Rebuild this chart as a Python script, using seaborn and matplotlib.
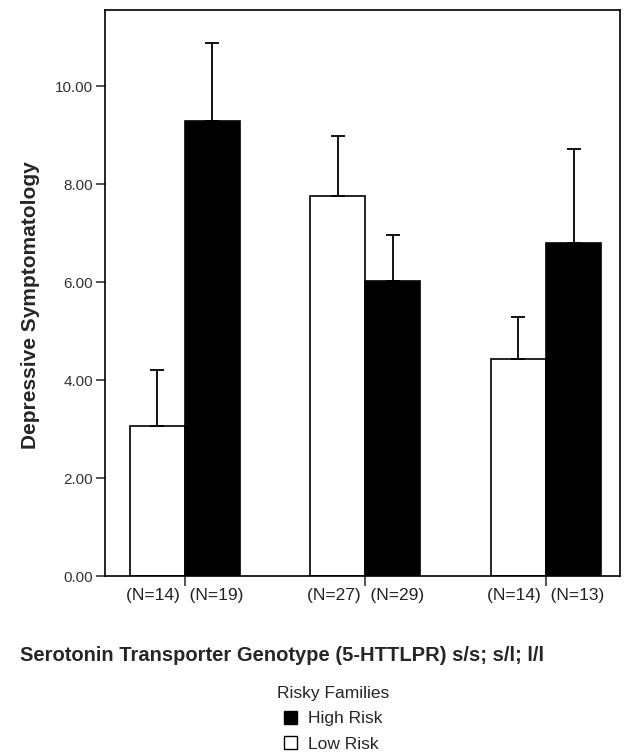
import numpy as np
import pandas as pd
import matplotlib
matplotlib.use("Agg")
import matplotlib.pyplot as plt
import seaborn as sns
from matplotlib.patches import Patch

# values
genotypes = ["s/s", "s/l", "l/l"]
risk_order = ["Low Risk", "High Risk"]
low_mean = [3.07, 7.76, 4.44]
low_upper = [4.21, 8.98, 5.28]
high_mean = [9.28, 6.02, 6.79]
high_upper = [10.88, 6.96, 8.72]
n_low = [14, 27, 14]
n_high = [19, 29, 13]
yticks = [0, 2, 4, 6, 8, 10]

df = pd.DataFrame({
    "Genotype": genotypes * 2,
    "Risk": ["Low Risk"] * 3 + ["High Risk"] * 3,
    "Mean": low_mean + high_mean,
    "Upper": low_upper + high_upper,
})

sns.set_style("white")
plt.rcParams["font.family"] = ["Liberation Sans", "DejaVu Sans"]

fig = plt.figure(figsize=(6.32, 7.54), dpi=100)
ax = fig.add_axes([0.166, 0.236, 0.815, 0.751])

sns.barplot(data=df, x="Genotype", y="Mean", hue="Risk", order=genotypes,
            hue_order=risk_order, palette={"Low Risk": "white", "High Risk": "black"},
            edgecolor="black", linewidth=1.2, width=0.61, gap=0, errorbar=None,
            legend=False, ax=ax)

# one-sided error bars (upper only)
offsets = {"Low Risk": -0.1525, "High Risk": 0.1525}
for risk in risk_order:
    sub = df[df["Risk"] == risk].set_index("Genotype").loc[genotypes]
    xs = np.arange(len(genotypes)) + offsets[risk]
    err = sub["Upper"].values - sub["Mean"].values
    ax.errorbar(xs, sub["Mean"].values, yerr=[np.zeros(len(xs)), err],
                fmt="none", ecolor="black", elinewidth=1.3, capsize=4.7,
                capthick=1.3, zorder=1)

ax.set_xlim(-0.443, 2.41)
ax.set_ylim(0, 11.56)
ax.set_yticks(yticks)
ax.set_yticklabels([f"{v:.2f}" for v in yticks], fontsize=11, color="#333333")
ax.set_xticks(range(len(genotypes)))
ax.set_xticklabels([f"(N={a})  (N={b})" for a, b in zip(n_low, n_high)],
                   fontsize=12.5, color="#222222")
ax.tick_params(axis="y", direction="out", length=6.5, width=1.1, left=True, pad=2)
ax.tick_params(axis="x", direction="out", length=7.5, width=1.1, bottom=True, pad=1)
for s in ax.spines.values():
    s.set_color("black")
    s.set_linewidth(1.2)

ax.set_xlabel("")
ax.set_ylabel("Depressive Symptomatology", fontsize=15, fontweight="bold")
ax.yaxis.set_label_coords(-0.126, 0.479)
fig.text(0.032, 0.131, "Serotonin Transporter Genotype (5-HTTLPR) s/s; s/l; l/l",
         fontsize=14.5, fontweight="bold", ha="left", va="center")

handles = [Patch(facecolor="black", edgecolor="black", label="High Risk"),
           Patch(facecolor="white", edgecolor="black", label="Low Risk")]
leg = fig.legend(handles=handles, title="Risky Families", loc="upper left",
                 bbox_to_anchor=(0.438, 0.090), frameon=False, fontsize=12.5,
                 title_fontsize=12.5, handlelength=0.8, handleheight=0.8,
                 handletextpad=0.6, labelspacing=0.55, borderpad=0, borderaxespad=0)

fig.savefig("out.png", dpi=100)
